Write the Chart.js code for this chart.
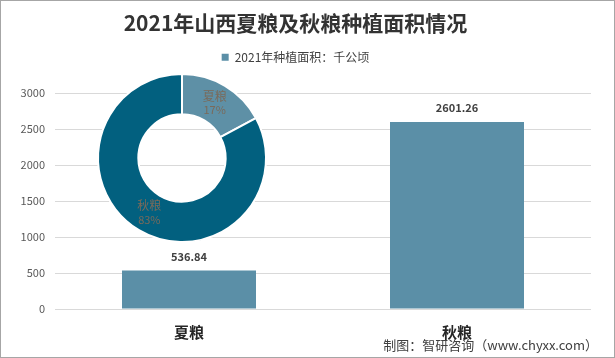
<!DOCTYPE html>
<html><head><meta charset="utf-8">
<script src="https://cdn.jsdelivr.net/npm/chart.js@4.4.1/dist/chart.umd.min.js"></script>
<style>
html,body{margin:0;padding:0;background:#fff;}
#wrap{position:relative;width:615px;height:358px;}
#bar{position:absolute;left:0;top:0;}
#pie{position:absolute;left:92px;top:68px;}
</style></head>
<body>
<div id="wrap">
<canvas id="bar" width="615" height="358"></canvas>
<canvas id="pie" width="180" height="180"></canvas>
</div>
<script>
const categories = ['夏粮', '秋粮'];
const areaValues = [536.84, 2601.26];
const seriesName = '2021年种植面积：千公顷';
const pieLabels = ['夏粮', '秋粮'];
const pieValues = [536.84, 2601.26];
const yTicks = [0, 500, 1000, 1500, 2000, 2500, 3000];
const titleText = '2021年山西夏粮及秋粮种植面积情况';
const footerText = '制图：智研咨询（www.chyxx.com）';

const CJK = '"Noto Sans CJK SC","Noto Sans",sans-serif';

const legendSpace = {
  id: 'legendSpace',
  beforeInit(chart) {
    const lg = chart.legend;
    if (!lg) return;
    const orig = lg.fit;
    lg.fit = function () { orig.call(this); this.height += 20; };
  }
};

const barDecor = {
  id: 'barDecor',
  afterDatasetsDraw(chart) {
    const ctx = chart.ctx;
    const meta = chart.getDatasetMeta(0);
    ctx.save();
    ctx.font = 'bold 11px ' + CJK;
    ctx.fillStyle = '#404040';
    ctx.textAlign = 'center';
    ctx.textBaseline = 'middle';
    meta.data.forEach((el, i) => {
      ctx.fillText(areaValues[i].toFixed(2), el.x, el.y - 14);
    });
    ctx.restore();
  },
  afterDraw(chart) {
    const ctx = chart.ctx;
    ctx.save();
    ctx.font = '13px ' + CJK;
    ctx.fillStyle = '#404040';
    ctx.textAlign = 'right';
    ctx.textBaseline = 'middle';
    ctx.fillText(footerText, 598, 345);
    ctx.strokeStyle = '#a6a6a6';
    ctx.lineWidth = 1;
    ctx.strokeRect(0.5, 0.5, 614, 357);
    ctx.restore();
  }
};

new Chart(document.getElementById('bar'), {
  type: 'bar',
  data: {
    labels: categories,
    datasets: [{
      label: seriesName,
      data: areaValues,
      backgroundColor: '#5B8FA7',
      categoryPercentage: 1,
      barPercentage: 0.5
    }]
  },
  options: {
    responsive: false,
    animation: false,
    layout: { padding: { left: 0, right: 24, bottom: 14, top: 0 } },
    plugins: {
      title: {
        display: true, text: titleText, color: '#333333',
        font: { family: CJK, size: 21, weight: 'bold' },
        padding: { top: 10, bottom: 10 }
      },
      legend: {
        display: true,
        labels: {
          boxWidth: 7, boxHeight: 7, color: '#404040',
          font: { family: CJK, size: 12 }, padding: 6
        }
      },
      tooltip: { enabled: false }
    },
    scales: {
      x: {
        grid: { display: false },
        border: { display: false },
        ticks: { color: '#262626', font: { family: CJK, size: 15, weight: 'bold' }, padding: 6 },
        afterFit(s) { s.height = 35; }
      },
      y: {
        min: 0, max: 3000,
        afterBuildTicks(s) { s.ticks = yTicks.map(v => ({ value: v })); },
        grid: { color: '#d9d9d9', drawTicks: false },
        border: { display: false },
        ticks: { color: '#595959', font: { family: CJK, size: 11 }, padding: 10,
                 callback: v => String(v) },
        afterFit(s) { s.width = 55; }
      }
    }
  },
  plugins: [legendSpace, barDecor]
});

const pieLabelPlugin = {
  id: 'pieLabelPlugin',
  afterDatasetsDraw(chart) {
    const ctx = chart.ctx;
    const meta = chart.getDatasetMeta(0);
    const total = pieValues.reduce((a, b) => a + b, 0);
    ctx.save();
    ctx.fillStyle = '#7a6a5a';
    ctx.textAlign = 'center';
    ctx.textBaseline = 'middle';
    meta.data.forEach((arc, i) => {
      const p = arc.tooltipPosition();
      ctx.font = '12px ' + CJK;
      ctx.fillText(pieLabels[i], p.x, p.y - 7);
      ctx.font = '11px ' + CJK;
      ctx.fillText(Math.round(pieValues[i] / total * 100) + '%', p.x, p.y + 7);
    });
    ctx.restore();
  }
};

new Chart(document.getElementById('pie'), {
  type: 'doughnut',
  data: {
    labels: pieLabels,
    datasets: [{
      data: pieValues,
      backgroundColor: ['#5E90A6', '#02607F'],
      borderColor: '#ffffff',
      borderWidth: 2
    }]
  },
  options: {
    responsive: false,
    animation: false,
    cutout: '52%',
    layout: { padding: 5 },
    plugins: { legend: { display: false }, tooltip: { enabled: false }, title: { display: false } }
  },
  plugins: [pieLabelPlugin]
});
</script>
</body></html>
